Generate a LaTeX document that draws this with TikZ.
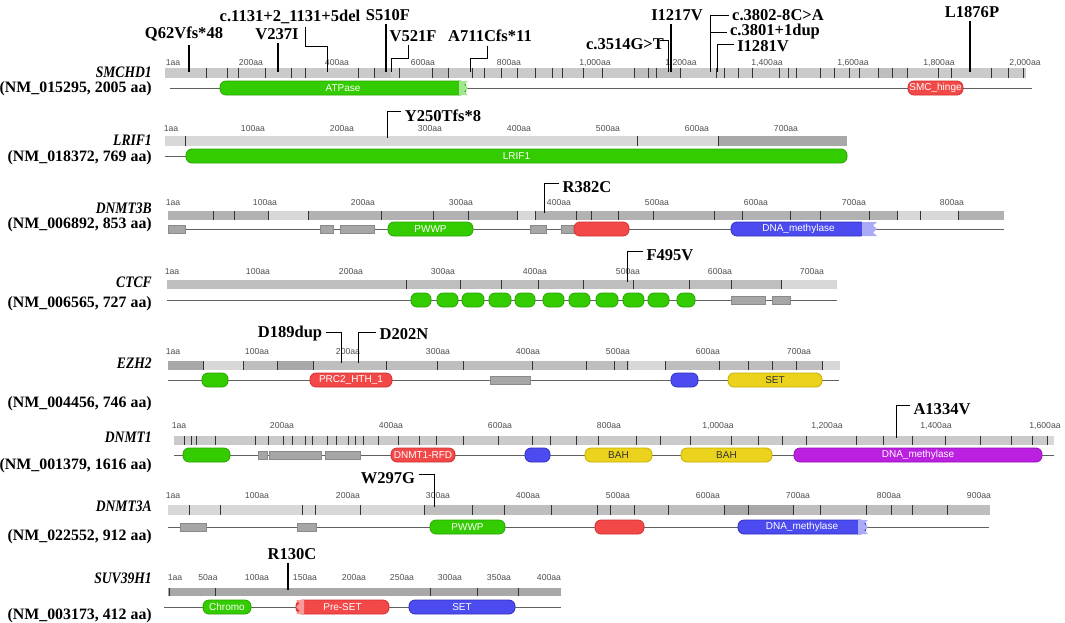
\documentclass[tikz,border=0pt]{standalone}
\usepackage{fontspec}
\setmainfont{Liberation Serif}
\newfontfamily\arialf{Liberation Sans}
\definecolor{gA}{HTML}{CACACA}
\definecolor{gL}{HTML}{D8D8D8}
\definecolor{gM}{HTML}{BEBEBE}
\definecolor{gD}{HTML}{A8A8A8}
\definecolor{gS}{HTML}{B2B2B2}
\definecolor{dgreen}{HTML}{33CC00}
\definecolor{dgreenD}{HTML}{29A300}
\definecolor{lgreen}{HTML}{A0E890}
\definecolor{dred}{HTML}{F24848}
\definecolor{dredD}{HTML}{D03030}
\definecolor{lred}{HTML}{F89A9A}
\definecolor{dblue}{HTML}{4B4BEF}
\definecolor{dblueD}{HTML}{3030C0}
\definecolor{lblue}{HTML}{AAAAF6}
\definecolor{dyel}{HTML}{EBD21C}
\definecolor{dyelD}{HTML}{C8AE00}
\definecolor{dpur}{HTML}{BB1FE0}
\definecolor{dpurD}{HTML}{9410B8}
\definecolor{gbox}{HTML}{A6A6A6}
\definecolor{gboxD}{HTML}{8A8A8A}
\definecolor{lineg}{HTML}{606060}
\definecolor{rlc}{HTML}{505050}
\newcommand{\dompill}[7]{%
  \draw[fill=#5,draw=#6,line width=0.6pt,rounded corners=4.5pt] (#2,#4-7) rectangle (#3,#4+7);
  \node[domlab] (#1) at ({(#2+#3)/2},#4) {#7};}
\newcommand{\gbx}[3]{\draw[fill=gbox,draw=gboxD,line width=0.5pt] (#1,#3-4) rectangle (#2,#3+4);}
\newcommand{\ragR}[4]{\fill[#4] (#1,#3-7) -- (#2,#3-7) -- (#2-4,#3-3.5) -- (#2,#3) -- (#2-4,#3+3.5) -- (#2,#3+7) -- (#1,#3+7) -- cycle;}
\newcommand{\ragL}[4]{\fill[#4] (#2,#3-7) -- (#1,#3-7) -- (#1+4,#3-3.5) -- (#1,#3) -- (#1+4,#3+3.5) -- (#1,#3+7) -- (#2,#3+7) -- cycle;}
\newcommand{\rlabels}[3]{\foreach \x/\l [count=\i] in {#3}{\node[rl] (#1-\i) at (\x,#2) {\l};}}
\newcommand{\bticks}[3]{\foreach \t in {#3}{\draw[tk] (\t,#1) -- (\t,#2);}}
\newcommand{\bsegs}[4]{\foreach \a/\b in {#4}{\fill[#3] (\a,#1) rectangle (\b,#2);}}
\newcommand{\gn}[1]{\scalebox{0.85}[1]{#1}}
\begin{document}
\begin{tikzpicture}[x=0.75pt,y=-0.75pt,
 mut/.style={font=\bfseries\fontsize{12.4}{14}\selectfont,inner sep=2.5pt},
 gene/.style={font=\bfseries\itshape\fontsize{12}{14}\selectfont,anchor=east,inner sep=0pt},
 acc/.style={font=\bfseries\fontsize{11.9}{14}\selectfont,anchor=east,inner sep=0pt},
 rl/.style={font=\arialf\fontsize{6.5}{7}\selectfont,text=rlc,inner sep=0pt},
 domlab/.style={font=\arialf\fontsize{7.5}{8}\selectfont,text=white,inner sep=0pt},
 tk/.style={draw=black!80,line width=0.7pt},
 dl/.style={draw=lineg,line width=0.75pt},
 ms/.style={draw=black,line width=1.1pt},
 me/.style={draw=black,line width=0.65pt}]
\useasboundingbox[fill=white] (0,0) rectangle (1065,622);

% ===== Row 1: SMCHD1
\fill[gA] (165,68) rectangle (1026,78);
\bsegs{68}{78}{gM}{374/391,432/448,634/680,878/907}
\bticks{68}{78}{206,227,238,265,291,305,358,374,399,432,448,472,484,501,517,535,552,562,583,602,634,648,656,680,716,724,738,752,779,788,796,820,834,849,859,878,892,907,938,951,991,1008,1023}
\rlabels{r1}{63}{173/1aa,251/200aa,337/400aa,423/600aa,509/800aa,595/{1,000aa},681/{1,200aa},767/{1,400aa},853/{1,600aa},939/{1,800aa},1025/{2,000aa}}
\draw[dl] (170,88) -- (1032,88);
\dompill{atp}{220}{466}{88}{dgreen}{dgreenD}{ATPase}
\ragR{459}{468}{88}{lgreen}
\dompill{smch}{908}{963}{88}{dred}{dredD}{SMC\_hinge}
\node[gene] (g1) at (152,72) {\gn{SMCHD1}};
\node[acc] (a1) at (152,89) {(NM\_015295, 2005 aa)};
\node[mut] (q62) at (184,34) {Q62Vfs*48};
\coordinate (q62b) at (189,72);
\draw[ms] (q62b |- q62.south) -- (q62b);
\node[mut] (v237) at (277,34) {V237I};
\coordinate (v237b) at (278,72);
\draw[ms] (v237b |- v237.south) -- (v237b);
\node[mut] (c1131) at (290,17) {c.1131+2\_1131+5del};
\coordinate (c1131k) at (305,46); \coordinate (c1131b) at (327,72);
\draw[me] (c1131k |- c1131.south) -- (c1131k) -| (c1131b);
\node[mut] (s510) at (388,15) {S510F};
\coordinate (s510b) at (386,72);
\draw[ms] (s510b |- s510.south) -- (s510b);
\node[mut] (v521) at (413,36) {V521F};
\coordinate (v521k) at (408,58); \coordinate (v521b) at (391,72);
\draw[me] (v521k |- v521.south) -- (v521k) -| (v521b);
\node[mut] (a711) at (490,36) {A711Cfs*11};
\coordinate (a711k) at (487,58); \coordinate (a711b) at (470,72);
\draw[me] (a711k |- a711.south) -- (a711k) -| (a711b);
\node[mut] (i1217) at (677,15) {I1217V};
\coordinate (i1217b) at (671,72);
\draw[ms] (i1217b |- i1217.south) -- (i1217b);
\node[mut] (c3514) at (625,44) {c.3514G>T};
\coordinate (c3514b) at (668,72);
\draw[me] ([xshift=-6pt,yshift=3pt]c3514.east) -| (c3514b);
\node[mut] (c3802) at (778,15) {c.3802-8C>A};
\node[mut] (c3801) at (775,32) {c.3801+1dup};
\coordinate (c38b) at (710,72);
\draw[me] (c3802.west) -| (c38b);
\draw[me] (c3801.west) -- (c3801.west -| c38b);
\node[mut] (i1281) at (763,46) {I1281V};
\coordinate (i1281b) at (717,72);
\draw[me] ([yshift=1.5pt]i1281.west) -| (i1281b);
\node[mut] (l1876) at (972,12) {L1876P};
\coordinate (l1876b) at (970,72);
\draw[ms] (l1876b |- l1876.south) -- (l1876b);

% ===== Row 2: LRIF1
\fill[gL] (165,136) rectangle (847,146);
\bsegs{136}{146}{gD}{718/847}
\bticks{136}{146}{185,637,718}
\rlabels{r2}{129}{171/1aa,253/100aa,342/200aa,430/300aa,519/400aa,608/500aa,697/600aa,786/700aa}
\draw[dl] (165,156) -- (190,156);
\dompill{lrif}{186}{847}{156}{dgreen}{dgreenD}{LRIF1}
\node[gene] (g2) at (152,140) {\gn{LRIF1}};
\node[acc] (a2) at (152,158) {(NM\_018372, 769 aa)};
\node[mut] (y250) at (443,116) {Y250Tfs*8};
\coordinate (y250b) at (387,138);
\draw[me] ([yshift=3.5pt]y250.west) -| (y250b);

% ===== Row 3: DNMT3B
\fill[gS] (168,211) rectangle (1004,220);
\bsegs{211}{220}{gL}{268/308,517/535,897/958}
\bticks{211}{220}{213,234,268,308,381,433,468,517,535,576,591,618,653,714,742,790,820,869,897,920,958}
\rlabels{r3}{203}{173/1aa,265/100aa,363/200aa,461/300aa,559/400aa,657/500aa,756/600aa,854/700aa,952/800aa}
\draw[dl] (168,229) -- (1004,229);
\gbx{168}{185}{229}\gbx{320}{333}{229}\gbx{340}{374}{229}\gbx{530}{546}{229}\gbx{561}{578}{229}
\dompill{pwwp1}{388}{473}{229}{dgreen}{dgreenD}{PWWP}
\dompill{red3}{574}{629}{229}{dred}{dredD}{}
\dompill{dm3b}{731}{866}{229}{dblue}{dblueD}{DNA\_methylase}
\ragR{862}{877}{229}{lblue}
\node[gene] (g3) at (152,208) {\gn{DNMT3B}};
\node[acc] (a3) at (152,225) {(NM\_006892, 853 aa)};
\node[mut] (r382) at (587,187) {R382C};
\coordinate (r382b) at (544,213);
\draw[me] ([yshift=2.5pt]r382.west) -| (r382b);

% ===== Row 4: CTCF
\fill[gM] (167,280) rectangle (837,289);
\bsegs{280}{289}{gL}{781/837}
\bticks{280}{289}{406,460,501,538,583,633,689,731,781}
\rlabels{r4}{272}{172/1aa,258/100aa,351/200aa,443/300aa,535/400aa,628/500aa,720/600aa,812/700aa}
\draw[dl] (167,300) -- (837,300);
\foreach \a/\b [count=\i] in {411/431,437/458,462/484,489/511,515/535,543/564,569/590,596/618,623/644,648/669,677/695}{\dompill{zf\i}{\a}{\b}{300}{dgreen}{dgreenD}{}}
\gbx{731}{765}{300}\gbx{772}{790}{300}
\node[gene] (g4) at (152,282) {\gn{CTCF}};
\node[acc] (a4) at (152,304) {(NM\_006565, 727 aa)};
\node[mut] (f495) at (670,255) {F495V};
\coordinate (f495b) at (627,282);
\draw[me] ([yshift=2.5pt]f495.west) -| (f495b);

% ===== Row 5: EZH2
\fill[gM] (168,361) rectangle (840,370);
\bsegs{361}{370}{gL}{203/243,629/665,822/840}
\bsegs{361}{370}{gD}{168/203,277/313}
\bticks{361}{370}{203,243,277,313,386,437,463,532,586,614,627,665,719,748,772,796,822}
\rlabels{r5}{352}{173/1aa,257/100aa,348/200aa,438/300aa,528/400aa,618/500aa,708/600aa,799/700aa}
\draw[dl] (168,380) -- (839,380);
\dompill{grn5}{202}{228}{380}{dgreen}{dgreenD}{}
\dompill{prc2}{310}{392}{380}{dred}{dredD}{PRC2\_HTH\_1}
\gbx{490}{530}{380}
\dompill{blu5}{671}{698}{380}{dblue}{dblueD}{}
\dompill{set5}{728}{822}{380}{dyel}{dyelD}{\textcolor{black!80}{SET}}
\node[gene] (g5) at (152,363) {\gn{EZH2}};
\node[acc] (a5) at (152,404) {(NM\_004456, 746 aa)};
\node[mut] (d189) at (290,334) {D189dup};
\coordinate (d189b) at (341,363);
\draw[me] ([yshift=1.5pt]d189.east) -| (d189b);
\node[mut] (d202) at (404,334) {D202N};
\coordinate (d202b) at (358,363);
\draw[me] ([yshift=1.5pt]d202.west) -| (d202b);

% ===== Row 6: DNMT1
\fill[gA] (174,436) rectangle (1054,445);
\bsegs{436}{445}{gL}{1047/1054}
\bticks{436}{445}{184,191,196,215,255,268,283,292,305,312,327,336,348,355,363,378,398,419,436,463,498,532,550,576,598,636,660,690,731,758,782,806,856,883,912,945,980,1011,1032,1047}
\rlabels{r6}{426}{179/1aa,282/200aa,391/400aa,500/600aa,609/800aa,718/{1,000aa},827/{1,200aa},936/{1,400aa},1045/{1,600aa}}
\draw[dl] (174,455) -- (1054,455);
\dompill{grn6}{183}{230}{455}{dgreen}{dgreenD}{}
\gbx{258}{267}{455}\gbx{269}{321}{455}\gbx{325}{360}{455}
\dompill{rfd}{391}{455}{455}{dred}{dredD}{DNMT1-RFD}
\dompill{blu6}{525}{550}{455}{dblue}{dblueD}{}
\dompill{bah1}{585}{652}{455}{dyel}{dyelD}{\textcolor{black!80}{BAH}}
\dompill{bah2}{681}{772}{455}{dyel}{dyelD}{\textcolor{black!80}{BAH}}
\dompill{dm1}{794}{1042}{455}{dpur}{dpurD}{DNA\_methylase}
\node[gene] (g6) at (152,437) {\gn{DNMT1}};
\node[acc] (a6) at (152,466) {(NM\_001379, 1616 aa)};
\node[mut] (a1334) at (942,409) {A1334V};
\coordinate (a1334b) at (896,438);
\draw[me] ([yshift=3pt]a1334.west) -| (a1334b);

% ===== Row 7: DNMT3A
\fill[gM] (168,505) rectangle (990,515);
\bsegs{505}{515}{gL}{168/424}
\bsegs{505}{515}{gD}{724/793}
\bticks{505}{515}{189,220,302,315,360,424,472,504,551,597,610,634,668,724,748,793,820,866,891,912,947}
\rlabels{r7}{496}{173/1aa,257/100aa,348/200aa,438/300aa,528/400aa,618/500aa,708/600aa,798/700aa,889/800aa,979/900aa}
\draw[dl] (168,527) -- (989,527);
\gbx{180}{206}{527}\gbx{297}{316}{527}
\dompill{pwwp2}{430}{505}{527}{dgreen}{dgreenD}{PWWP}
\dompill{red7}{595}{644}{527}{dred}{dredD}{}
\dompill{dm3a}{738}{866}{527}{dblue}{dblueD}{DNA\_methylase}
\ragR{858}{868}{527}{lblue}
\node[gene] (g7) at (152,506) {\gn{DNMT3A}};
\node[acc] (a7) at (152,537) {(NM\_022552, 912 aa)};
\node[mut] (w297) at (388,478) {W297G};
\coordinate (w297b) at (434,507);
\draw[me] ([yshift=2.5pt]w297.east) -| (w297b);

% ===== Row 8: SUV39H1
\fill[gD] (168,588) rectangle (561,596);
\bticks{588}{596}{169,215,430,477,518}
\rlabels{r8}{578}{175/1aa,208/50aa,257/100aa,305/150aa,354/200aa,402/250aa,450/300aa,499/350aa,549/400aa}
\draw[dl] (164,607) -- (561,607);
\dompill{chromo}{203}{251}{607}{dgreen}{dgreenD}{Chromo}
\dompill{preset}{296}{389}{607}{dred}{dredD}{Pre-SET}
\ragL{296}{304}{607}{lred}
\dompill{set8}{409}{515}{607}{dblue}{dblueD}{SET}
\node[gene] (g8) at (152,578) {\gn{SUV39H1}};
\node[acc] (a8) at (152,616) {(NM\_003173, 412 aa)};
\node[mut] (r130) at (292,554) {R130C};
\coordinate (r130b) at (288,590);
\draw[ms] (r130b |- r130.south) -- (r130b);
\end{tikzpicture}
\end{document}
